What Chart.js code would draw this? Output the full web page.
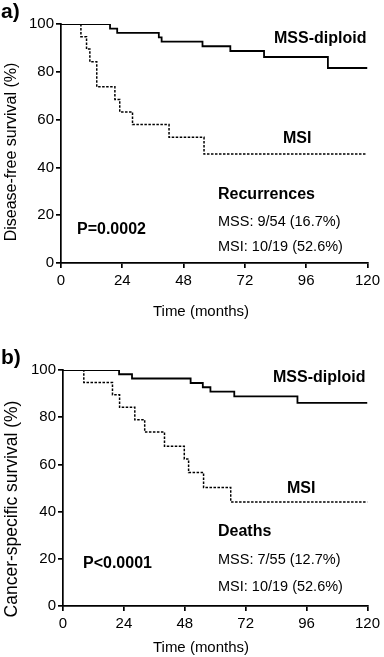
<!DOCTYPE html>
<html>
<head>
<meta charset="utf-8">
<script src="https://cdn.jsdelivr.net/npm/chart.js@4.4.0/dist/chart.umd.min.js"></script>
<style>
  body { margin: 0; background: #fff; }
  #wrap { position: relative; width: 384px; height: 657px; }
  canvas { position: absolute; left: 0; }
</style>
</head>
<body>
<div id="wrap">
  <canvas id="chartA" width="384" height="328" style="top:0"></canvas>
  <canvas id="chartB" width="384" height="329" style="top:328px"></canvas>
</div>
<script>
const FONT = '"Liberation Sans", Arial, sans-serif';

// a) disease-free survival, Kaplan-Meier steps (time in months, survival %)
const dfsMssTime = [0, 19.2, 22, 38.3, 39.4, 55.4, 66.3, 79.5, 104.5, 120];
const dfsMssSurv = [100, 98.1, 96.3, 94.4, 92.6, 90.7, 88.7, 86.2, 81.6, 81.6];
const dfsMsiTime = [0, 7.8, 10, 11.3, 14, 21.1, 23, 28, 42.3, 56, 119.5];
const dfsMsiSurv = [100, 94.7, 89.5, 84.2, 73.7, 68.4, 63.2, 57.9, 52.6, 45.6, 45.6];

// b) cancer-specific survival
const cssMssTime = [0, 22.1, 27.2, 50.3, 55.1, 58.1, 67.5, 92.4, 120];
const cssMssSurv = [100, 98.2, 96.4, 94.5, 92.7, 90.8, 88.8, 86.1, 86.1];
const cssMsiTime = [0, 8.2, 19.5, 22.3, 28.3, 32.2, 40, 47.8, 49.5, 55.4, 66.1, 120];
const cssMsiSurv = [100, 94.7, 89.5, 84.2, 78.9, 73.7, 67.7, 62.3, 56.6, 50.2, 44.1, 44.1];

const xTicks = [0, 24, 48, 72, 96, 120];
const yTicks = [0, 20, 40, 60, 80, 100];

function toPoints(times, surv) {
  return times.map((t, i) => ({ x: t, y: surv[i] }));
}

// free text drawn on top of the chart (positions in canvas pixels)
const textPlugin = {
  id: 'texts',
  afterDraw(chart, args, opts) {
    const ctx = chart.ctx;
    ctx.save();
    ctx.fillStyle = '#000';
    ctx.textBaseline = 'middle';
    (opts.items || []).forEach((it) => {
      ctx.font = it.font;
      ctx.textAlign = it.align || 'left';
      ctx.save();
      ctx.translate(it.x, it.y);
      if (it.rotate) ctx.rotate(it.rotate);
      ctx.fillText(it.text, 0, 0);
      ctx.restore();
    });
    ctx.restore();
  }
};

function makeChart(id, cfg) {
  const axisCommon = {
    type: 'linear',
    grid: { drawOnChartArea: false, drawTicks: true, tickLength: 5, color: '#000', lineWidth: 1.7 },
    border: { display: true, color: '#000', width: 1.7 },
  };
  return new Chart(document.getElementById(id), {
    type: 'line',
    data: {
      datasets: [{
        data: toPoints(cfg.mssTime, cfg.mssSurv),
        stepped: 'before',
        borderColor: '#000',
        borderWidth: 1.8,
        pointRadius: 0,
        fill: false
      }, {
        data: toPoints(cfg.msiTime, cfg.msiSurv),
        stepped: 'before',
        borderColor: '#000',
        borderWidth: 1.5,
        borderDash: [2.5, 1.5],
        pointRadius: 0,
        fill: false
      }]
    },
    options: {
      responsive: false,
      animation: false,
      devicePixelRatio: 1,
      layout: { padding: { top: cfg.top, right: cfg.right, left: 0, bottom: 0 } },
      plugins: {
        legend: { display: false },
        tooltip: { enabled: false },
        texts: { items: cfg.texts }
      },
      scales: {
        x: Object.assign({}, axisCommon, {
          min: 0, max: 120,
          afterBuildTicks: (s) => { s.ticks = xTicks.map((v) => ({ value: v })); },
          afterFit: (s) => { s.height = cfg.xHeight; },
          ticks: { color: '#000', font: { family: FONT, size: 15 }, padding: 4, maxRotation: 0 }
        }),
        y: Object.assign({}, axisCommon, {
          min: 0, max: 100,
          afterBuildTicks: (s) => { s.ticks = yTicks.map((v) => ({ value: v })); },
          afterFit: (s) => { s.width = cfg.yWidth; },
          ticks: { color: '#000', font: { family: FONT, size: 15 }, padding: 2 }
        })
      }
    },
    plugins: [textPlugin]
  });
}

const bold16 = 'bold 16px ' + FONT;
const reg14 = '14.5px ' + FONT;

makeChart('chartA', {
  mssTime: dfsMssTime, mssSurv: dfsMssSurv, msiTime: dfsMsiTime, msiSurv: dfsMsiSurv,
  top: 24, right: 16, yWidth: 61, xHeight: 65,
  texts: [
    { text: 'a)', x: 1, y: 12, font: 'bold 21px ' + FONT },
    { text: 'MSS-diploid', x: 274, y: 39, font: bold16 },
    { text: 'MSI', x: 283, y: 139, font: bold16 },
    { text: 'Recurrences', x: 218, y: 195, font: bold16 },
    { text: 'MSS: 9/54 (16.7%)', x: 218, y: 222, font: reg14 },
    { text: 'MSI: 10/19 (52.6%)', x: 218, y: 247, font: reg14 },
    { text: 'P=0.0002', x: 77, y: 230, font: bold16 },
    { text: 'Time (months)', x: 201, y: 312, font: '15px ' + FONT, align: 'center' },
    { text: 'Disease-free survival (%)', x: 12, y: 152, font: '16px ' + FONT, align: 'center', rotate: -Math.PI / 2 }
  ]
});

makeChart('chartB', {
  mssTime: cssMssTime, mssSurv: cssMssSurv, msiTime: cssMsiTime, msiSurv: cssMsiSurv,
  top: 42, right: 12, yWidth: 63, xHeight: 51,
  texts: [
    { text: 'b)', x: 1, y: 30, font: 'bold 21px ' + FONT },
    { text: 'MSS-diploid', x: 273, y: 50, font: bold16 },
    { text: 'MSI', x: 287, y: 161, font: bold16 },
    { text: 'Deaths', x: 218, y: 204, font: bold16 },
    { text: 'MSS: 7/55 (12.7%)', x: 218, y: 232, font: reg14 },
    { text: 'MSI: 10/19 (52.6%)', x: 218, y: 259, font: reg14 },
    { text: 'P<0.0001', x: 83, y: 236, font: bold16 },
    { text: 'Time (months)', x: 201, y: 320, font: '15px ' + FONT, align: 'center' },
    { text: 'Cancer-specific survival (%)', x: 12, y: 181, font: '17.5px ' + FONT, align: 'center', rotate: -Math.PI / 2 }
  ]
});
</script>
</body>
</html>
